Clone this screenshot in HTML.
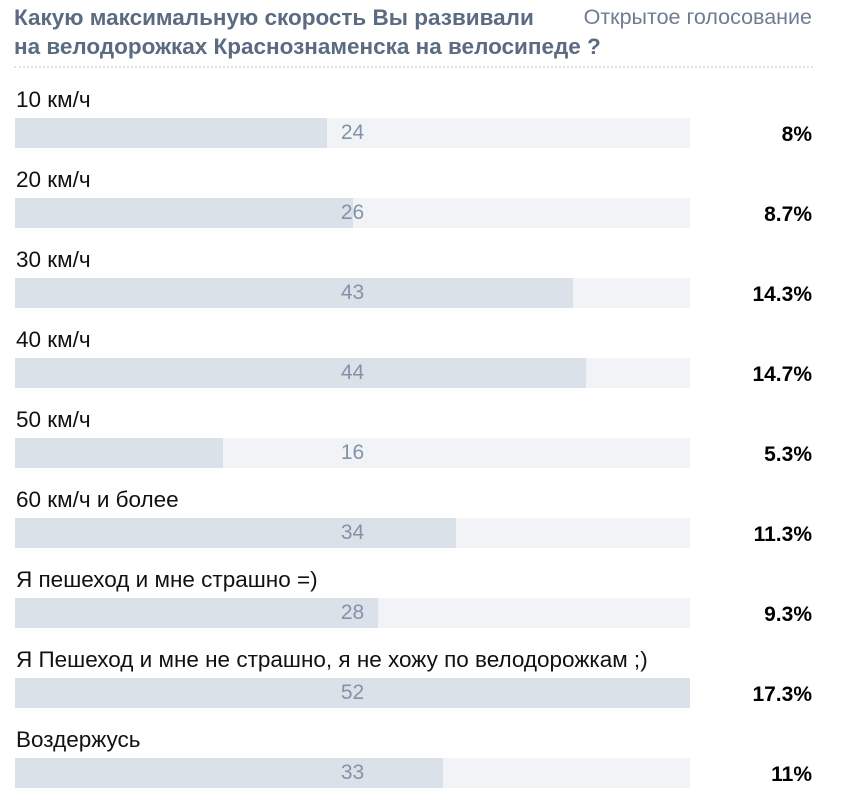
<!DOCTYPE html>
<html><head><meta charset="utf-8"><style>
body{margin:0;width:846px;height:805px;background:#fff;font-family:"Liberation Sans",sans-serif;position:relative;overflow:hidden}
.t{position:absolute;left:14px;top:3px;font-weight:bold;font-size:22.5px;line-height:29px;color:#5b6b82;white-space:nowrap}
.o{position:absolute;right:34px;top:3px;font-size:21.5px;line-height:29px;color:#6f7d92}
.sep{position:absolute;left:14px;width:799px;top:66px;border-top:2px dotted #e2e4e8}
.lab{position:absolute;left:16px;font-size:22.5px;color:#111;white-space:nowrap}
.track{position:absolute;left:15px;width:675px;height:30px;background:#f1f3f6}
.fill{position:absolute;left:0;top:0;height:30px;background:#dae1e8}
.num{position:absolute;left:0;width:675px;text-align:center;top:3px;font-size:21px;color:#8393aa}
.pct{position:absolute;right:34px;font-weight:bold;font-size:21px;color:#000}
</style></head><body>
<div class="t">Какую максимальную скорость Вы развивали<br>на велодорожках Краснознаменска на велосипеде ?</div>
<div class="o">Открытое голосование</div>
<div class="sep"></div>
<div id="rows"></div>
<script>
const categories=["10 км/ч","20 км/ч","30 км/ч","40 км/ч","50 км/ч","60 км/ч и более","Я пешеход и мне страшно =)","Я Пешеход и мне не страшно, я не хожу по велодорожкам ;)","Воздержусь"];
const votes=[24,26,43,44,16,34,28,52,33];
const percents=["8%","8.7%","14.3%","14.7%","5.3%","11.3%","9.3%","17.3%","11%"];
const maxV=Math.max(...votes);
const xScale=v=>v/maxV*675;
const root=document.getElementById('rows');
categories.forEach((c,i)=>{
 const top=118+80*i;
 const l=document.createElement('div');l.className='lab';l.style.top=(top-31)+'px';l.textContent=c;
 
 
 root.appendChild(l);
 const t=document.createElement('div');t.className='track';t.style.top=top+'px';
 
 
 const f=document.createElement('div');f.className='fill';f.style.width=xScale(votes[i])+'px';
 
 
 t.appendChild(f);
 const n=document.createElement('div');n.className='num';n.textContent=votes[i];
 
 
 t.appendChild(n);
 root.appendChild(t);
 const p=document.createElement('div');p.className='pct';p.style.top=(top+5)+'px';p.textContent=percents[i];
 
 
 root.appendChild(p);
});
</script>
</body></html>
